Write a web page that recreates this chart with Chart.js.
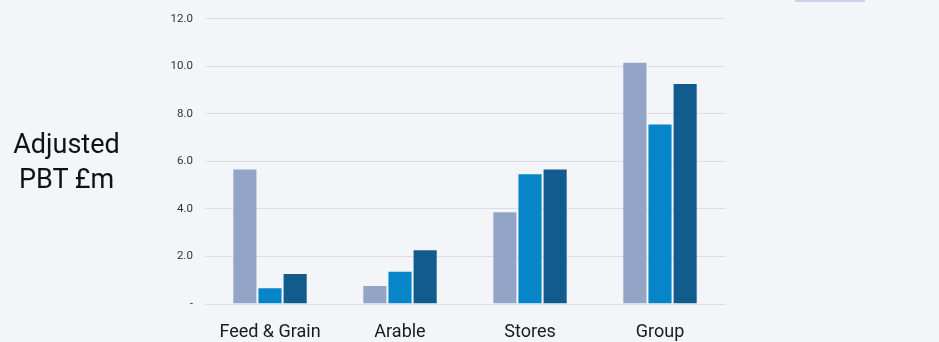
<!DOCTYPE html>
<html>
<head>
<meta charset="utf-8">
<script src="https://cdn.jsdelivr.net/npm/chart.js@4/dist/chart.umd.min.js"></script>
<style>
  html, body { margin: 0; padding: 0; background: #f4f5f9; }
  #wrap { position: relative; width: 939px; height: 342px; }
  #chart { position: absolute; left: 0; top: 0; }
  #ytitle {
    position: absolute; left: 0; top: 127px; width: 133px;
    font-family: Roboto, sans-serif; font-size: 27px; line-height: 35px;
    color: #111; text-align: center;
  }
  #legendEdge {
    position: absolute; left: 795px; top: 0; width: 70px; height: 2px;
    background: #c9d1e6;
  }
</style>
</head>
<body>
<div id="wrap">
  <canvas id="chart" width="939" height="342"></canvas>
  <div id="ytitle">Adjusted<br>PBT £m</div>
  <div id="legendEdge"></div>
</div>
<script>
// divisions and profit before tax per year (£m)
const categories = ["Feed & Grain", "Arable", "Stores", "Group"];
const year1 = [5.7, 0.8, 3.9, 10.2];
const year2 = [0.7, 1.4, 5.5, 7.6];
const year3 = [1.3, 2.3, 5.7, 9.3];
const yTicks = [0, 2, 4, 6, 8, 10, 12];

const barColors = ["#92a5c6", "#0686c8", "#115c8c"];

const makeSet = (values, i) => ({
  data: values,
  backgroundColor: barColors[i],
  borderColor: "rgba(255,255,255,0.18)",
  borderWidth: 1,
  barPercentage: 1,
  categoryPercentage: 0.58
});

const config = {
  type: "bar",
  data: {
    labels: categories,
    datasets: [makeSet(year1, 0), makeSet(year2, 1), makeSet(year3, 2)]
  },
  options: {
    responsive: false,
    animation: false,
    layout: { padding: { left: 150, right: 214, top: 12, bottom: 0 } },
    plugins: { legend: { display: false }, tooltip: { enabled: false } },
    scales: {
      x: {
        afterFit: (scale) => { scale.height = 38; },
        grid: { display: false },
        border: { display: false },
        ticks: {
          color: "#1a1a1a",
          padding: 10,
          maxRotation: 0,
          font: { family: "Roboto, sans-serif", size: 18 }
        }
      },
      y: {
        min: 0,
        max: 12,
        afterFit: (scale) => { scale.width = 55; },
        afterBuildTicks: (scale) => {
          scale.ticks = yTicks.map(v => ({ value: v }));
        },
        grid: { color: "#dcdde2", lineWidth: 1, drawTicks: false },
        border: { display: false },
        ticks: {
          color: "#333",
          padding: 12,
          font: { family: "Roboto, sans-serif", size: 11.5 },
          callback: (v) => v === 0 ? "-" : v.toFixed(1)
        }
      }
    }
  }
};

new Chart(document.getElementById("chart"), config);
</script>
</body>
</html>
